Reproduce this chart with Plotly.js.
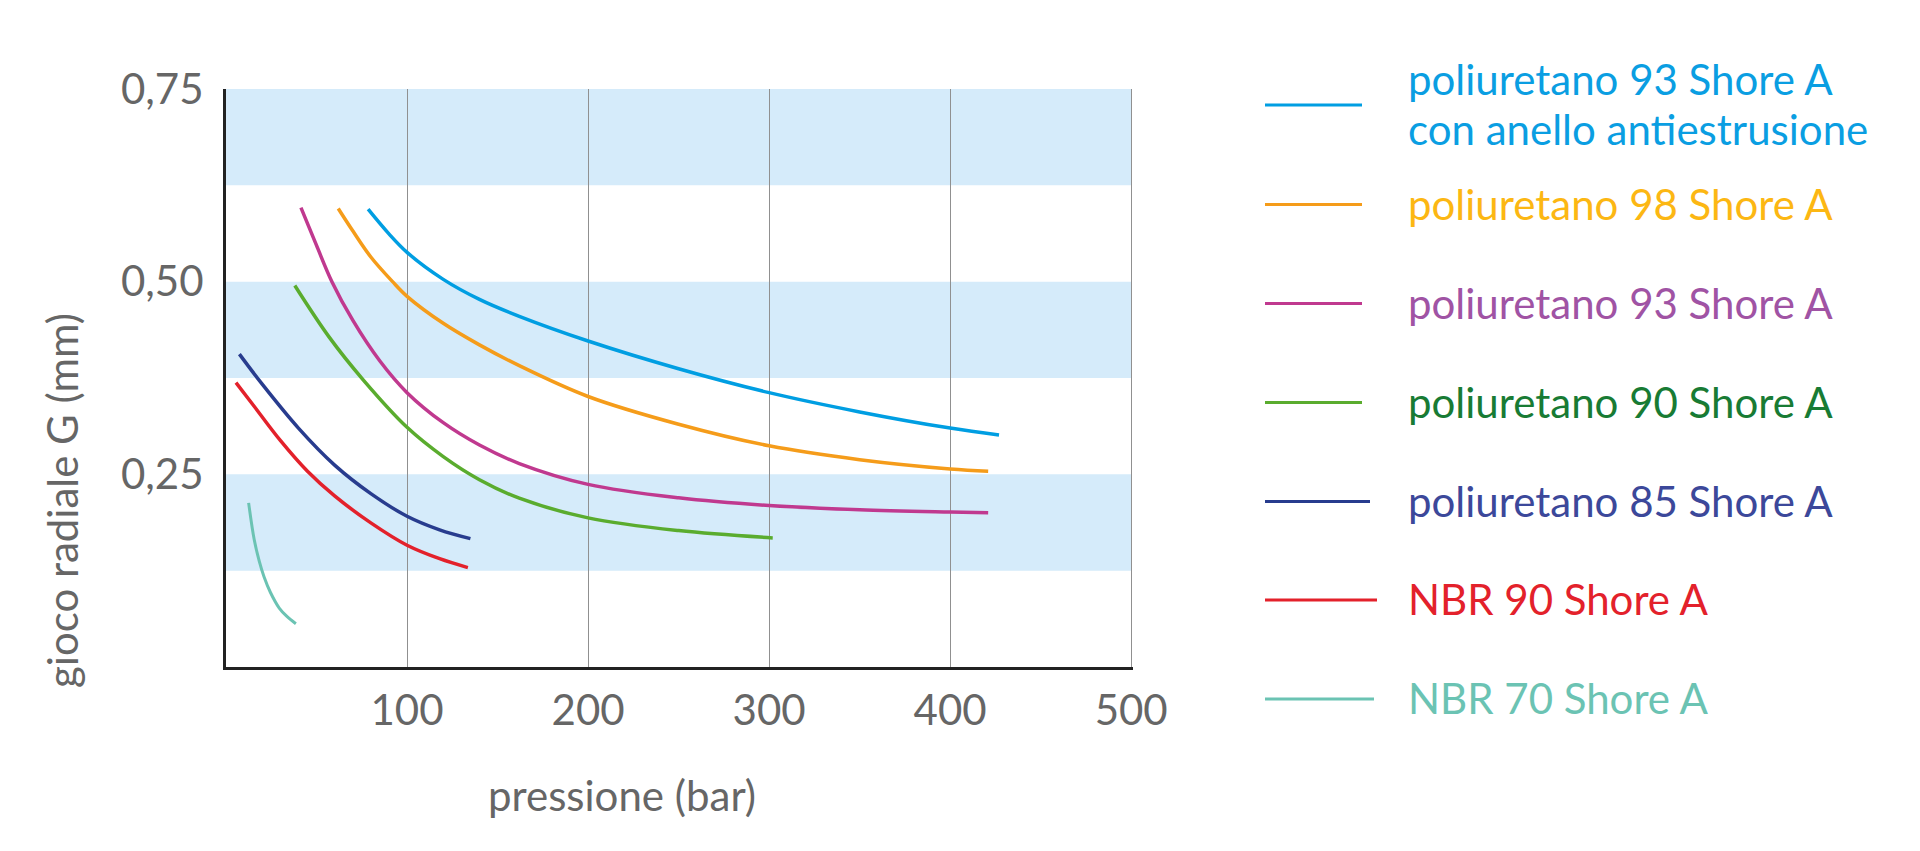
<!DOCTYPE html>
<html>
<head>
<meta charset="utf-8">
<script src="https://cdn.plot.ly/plotly-3.0.1.min.js"></script>
<style>
html,body{margin:0;padding:0;background:#fff;}
#chart{width:1920px;height:851px;}
</style>
</head>
<body>
<div id="chart"></div>
<script>
// ---- data (pressione in bar, gioco radiale G in mm) ----
const seriesNames = [
  "poliuretano 93 Shore A<br>con anello antiestrusione",
  "poliuretano 98 Shore A",
  "poliuretano 93 Shore A",
  "poliuretano 90 Shore A",
  "poliuretano 85 Shore A",
  "NBR 90 Shore A",
  "NBR 70 Shore A"
];
const pu93AntiX = [78.5, 90, 100, 120, 140, 162, 200, 250, 300, 350, 400, 427];
const pu93AntiY = [0.594, 0.562, 0.538, 0.503, 0.477, 0.455, 0.423, 0.387, 0.356, 0.331, 0.310, 0.301];
const pu98X = [62, 70, 80, 92, 100, 120, 140, 162, 200, 250, 300, 350, 400, 421];
const pu98Y = [0.595, 0.566, 0.532, 0.500, 0.481, 0.446, 0.418, 0.391, 0.351, 0.315, 0.287, 0.269, 0.257, 0.254];
const pu93X = [41.4, 50, 58.5, 70, 85, 100, 120, 140, 162, 200, 250, 300, 350, 400, 421];
const pu93Y = [0.596, 0.547, 0.500, 0.450, 0.397, 0.356, 0.317, 0.288, 0.264, 0.237, 0.2195, 0.2095, 0.204, 0.201, 0.200];
const pu90X = [38, 57, 76, 100, 120, 140, 162, 200, 250, 302];
const pu90Y = [0.495, 0.428, 0.372, 0.311, 0.273, 0.243, 0.219, 0.1935, 0.177, 0.1675];
const pu85X = [7.4, 20, 40, 60, 80, 100, 118, 135];
const pu85Y = [0.406, 0.367, 0.310, 0.262, 0.225, 0.1956, 0.178, 0.1666];
const nbr90X = [5.5, 15, 30, 45, 60, 80, 100, 118, 133.6];
const nbr90Y = [0.369, 0.340, 0.294, 0.254, 0.222, 0.187, 0.158, 0.1405, 0.129];
const nbr70X = [12.5, 15.6, 18.4, 21, 24.5, 29.4, 33.5, 38.6];
const nbr70Y = [0.213, 0.165, 0.137, 0.117, 0.097, 0.0765, 0.066, 0.0562];

const xTickVals = [100, 200, 300, 400, 500];
const xTickText = ["100", "200", "300", "400", "500"];
const yTickVals = [0.25, 0.50, 0.75];
const yTickText = ["0,25", "0,50", "0,75"];
const bandRanges = [[0.125, 0.25], [0.375, 0.5], [0.625, 0.75]];

const lineColors = ["#009ee2", "#f59c1a", "#c0398f", "#5aac2e", "#283c8e", "#e3212b", "#6bc3b3"];
const textColors = ["#0a9ee2", "#fcb713", "#a053a4", "#187b34", "#3c489a", "#e3212b", "#6bc3b3"];
const xs = [pu93AntiX, pu98X, pu93X, pu90X, pu85X, nbr90X, nbr70X];
const ys = [pu93AntiY, pu98Y, pu93Y, pu90Y, pu85Y, nbr90Y, nbr70Y];

// ---- layout geometry ----
const W = 1920, H = 851;
const L = 226, R = 1133, T = 89, B = 667;
const pw = R - L, ph = B - T;
const fx = p => (p - L) / pw;
const fy = p => (B - p) / ph;
const FONT = "Lato, 'Open Sans', sans-serif";
const GREY = "#666666";

const traces = xs.map((x, i) => ({
  type: "scatter", mode: "lines", x: x, y: ys[i],
  name: seriesNames[i],
  line: {color: lineColors[i], width: i === 6 ? 3 : 3.5, shape: "spline", smoothing: 1},
  showlegend: false, hoverinfo: "skip"
}));

const shapes = bandRanges.map(b => ({
  type: "rect", xref: "x", yref: "y", x0: 0, x1: 500, y0: b[0], y1: b[1],
  fillcolor: "#d5ebfa", line: {width: 0}, layer: "below"
}));

// legend (drawn manually to match the original look)
const legendLineY = [105, 204.5, 303.5, 402.5, 501.5, 600, 699];
const legendLineEnd = [1362, 1362, 1362, 1362, 1370, 1377, 1374];
const annotations = [];
legendLineY.forEach((yy, i) => {
  shapes.push({type: "line", xref: "paper", yref: "paper",
    x0: fx(1265), x1: fx(legendLineEnd[i]), y0: fy(yy), y1: fy(yy),
    line: {color: lineColors[i], width: 3}});
});
const legendTextY = [null, 203.5, 302.5, 401.5, 500.5, 599, 698];
seriesNames.forEach((nm, i) => {
  if (i === 0) {
    const parts = nm.split("<br>");
    [79.5, 128.5].forEach((yy, k) => annotations.push({
      xref: "paper", yref: "paper", x: fx(1406), y: fy(yy), xanchor: "left", yanchor: "middle",
      text: parts[k], showarrow: false, font: {family: FONT, size: 42, color: textColors[i]}
    }));
  } else {
    annotations.push({
      xref: "paper", yref: "paper", x: fx(1406), y: fy(legendTextY[i]), xanchor: "left", yanchor: "middle",
      text: nm, showarrow: false, font: {family: FONT, size: 42, color: textColors[i]}
    });
  }
});
// axis titles
annotations.push({xref: "paper", yref: "paper", x: fx(62), y: fy(501), xanchor: "center", yanchor: "middle",
  text: "gioco radiale G (mm)", textangle: -90, showarrow: false, font: {family: FONT, size: 42, color: GREY}});
annotations.push({xref: "paper", yref: "paper", x: fx(622), y: fy(795), xanchor: "center", yanchor: "middle",
  text: "pressione (bar)", showarrow: false, font: {family: FONT, size: 42, color: GREY}});

const layout = {
  width: W, height: H,
  margin: {l: L, r: W - R, t: T, b: H - B, pad: 0},
  paper_bgcolor: "#ffffff", plot_bgcolor: "rgba(0,0,0,0)",
  showlegend: false,
  font: {family: FONT, size: 42, color: GREY},
  xaxis: {
    range: [0, 501], tickvals: xTickVals, ticktext: xTickText,
    showgrid: true, gridcolor: "#909090", gridwidth: 1, zeroline: false,
    showline: true, linecolor: "#222222", linewidth: 3, ticks: "",
    ticklabelstandoff: 5, tickfont: {family: FONT, size: 42, color: GREY}
  },
  yaxis: {
    range: [0, 0.75], tickvals: yTickVals, ticktext: yTickText,
    showgrid: false, zeroline: false,
    showline: true, linecolor: "#222222", linewidth: 3, ticks: "",
    ticklabelstandoff: 11, tickfont: {family: FONT, size: 42, color: GREY}
  },
  shapes: shapes,
  annotations: annotations
};

Plotly.newPlot("chart", traces, layout, {staticPlot: true, displayModeBar: false});
</script>
</body>
</html>
